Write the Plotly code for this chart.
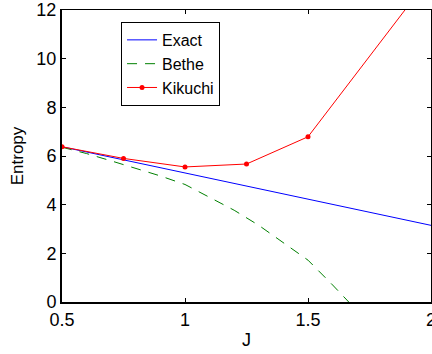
import plotly.graph_objects as go

J_exact = [0.5, 0.75, 1.0, 1.25, 1.5, 1.75, 2.0]
S_exact = [6.38, 5.84, 5.30, 4.77, 4.23, 3.69, 3.15]

J_bethe = [0.5, 0.6, 0.7, 0.8, 0.9, 1.0, 1.1, 1.2, 1.3, 1.4, 1.5, 1.6, 1.7, 1.75]
S_bethe = [6.36, 6.10, 5.80, 5.50, 5.18, 4.83, 4.30, 3.77, 3.15, 2.43, 1.72, 0.70, -0.35, -0.9]

J_kik = [0.5, 0.75, 1.0, 1.25, 1.5, 2.0]
S_kik = [6.38, 5.90, 5.55, 5.67, 6.79, 13.4]

x_ticks = [0.5, 1, 1.5, 2]
y_ticks = [0, 2, 4, 6, 8, 10, 12]

FONT = "Liberation Sans, Arial, sans-serif"
FS = 18

fig = go.Figure()
fig.add_trace(go.Scatter(x=J_exact, y=S_exact, mode="lines", name="Exact",
                         line=dict(color="#0000ff", width=1)))
fig.add_trace(go.Scatter(x=J_bethe, y=S_bethe, mode="lines", name="Bethe",
                         line=dict(color="#008000", width=1, dash="10px,8px")))
fig.add_trace(go.Scatter(x=J_kik, y=S_kik, mode="lines+markers", name="Kikuchi",
                         line=dict(color="#ff0000", width=1),
                         marker=dict(color="#ff0000", size=5)))
fig.add_trace(go.Scatter(x=[0.5], y=[0], xaxis="x2", yaxis="y2", showlegend=False,
                         mode="markers", marker=dict(opacity=0), hoverinfo="skip"))

fig.update_layout(
    width=432, height=354,
    margin=dict(l=62, r=1, t=10, b=52, autoexpand=False),
    paper_bgcolor="white", plot_bgcolor="white",
    font=dict(family=FONT, size=FS, color="black"),
    showlegend=True,
    legend=dict(x=0.16, y=0.959, xanchor="left", yanchor="top",
                bgcolor="white", bordercolor="black", borderwidth=1,
                font=dict(family=FONT, size=16, color="black"),
                tracegroupgap=0, itemwidth=30),
    xaxis=dict(range=[0.5, 2], tickvals=x_ticks, ticktext=["0.5", "1", "1.5", "2"],
               ticks="inside", ticklen=4, tickcolor="black", showgrid=False,
               zeroline=False, showline=True, linecolor="black", linewidth=2,
               automargin=False, ticklabeloverflow="allow",
               title=dict(text="J", standoff=5,
                          font=dict(family=FONT, size=FS, color="black")),
               tickfont=dict(family=FONT, size=FS, color="black")),
    yaxis=dict(range=[0, 12], tickvals=y_ticks, ticks="inside", ticklen=4,
               tickcolor="black", showgrid=False, zeroline=False, showline=True,
               linecolor="black", linewidth=2, automargin=False,
               ticklabeloverflow="allow",
               title=dict(text="Entropy", standoff=8,
                          font=dict(family=FONT, size=17, color="black")),
               tickfont=dict(family=FONT, size=FS, color="black")),
    xaxis2=dict(range=[0.5, 2], overlaying="x", side="top", anchor="y",
                tickvals=x_ticks, showticklabels=False, ticks="inside", ticklen=4,
                tickcolor="black", showgrid=False, zeroline=False, showline=True,
                linecolor="black", linewidth=1, automargin=False),
    yaxis2=dict(range=[0, 12], overlaying="y", side="right", anchor="x",
                tickvals=y_ticks, showticklabels=False, ticks="inside", ticklen=4,
                tickcolor="black", showgrid=False, zeroline=False, showline=True,
                linecolor="black", linewidth=1, automargin=False),
)

fig.write_html("out.html", config={"displayModeBar": False},
               post_script="document.body.style.margin='0';document.body.style.padding='0';")
